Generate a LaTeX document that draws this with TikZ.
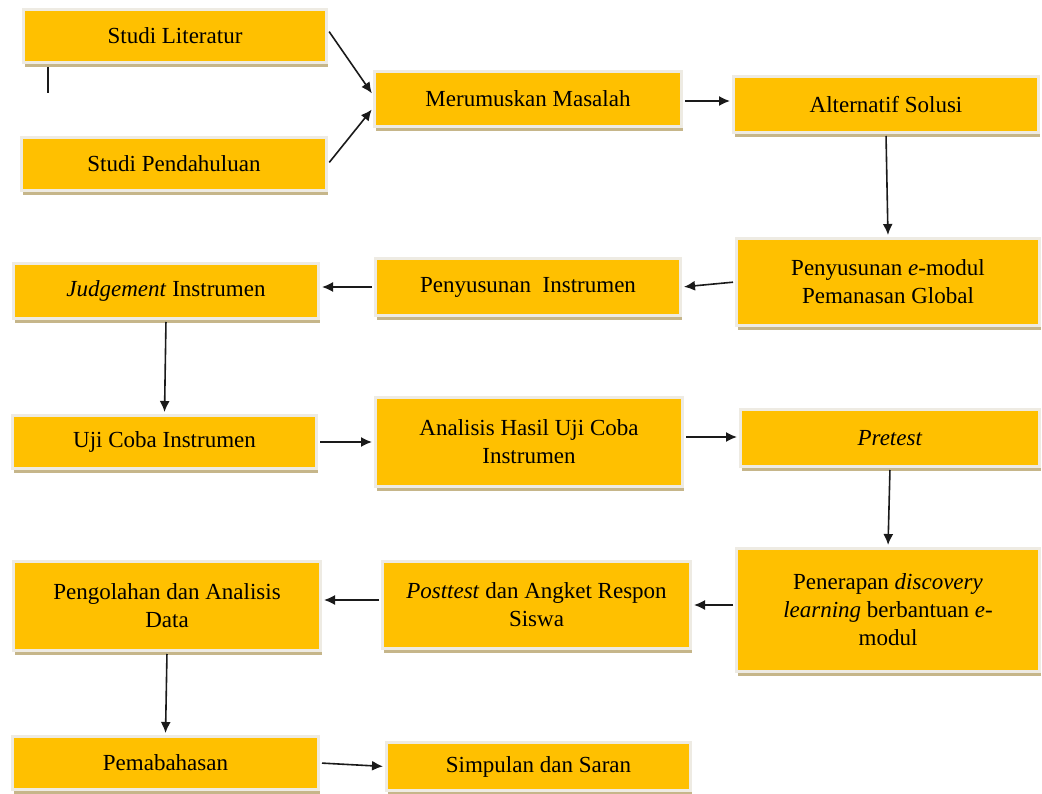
\documentclass[tikz,border=0pt]{standalone}
\usepackage{fontspec}
\setmainfont{Liberation Serif}
\usetikzlibrary{arrows.meta,shadows}
\definecolor{goldbox}{HTML}{FFC000}
\definecolor{framec}{HTML}{EEEBE3}
\definecolor{shadowc}{HTML}{C6B68A}
\definecolor{arrowc}{HTML}{1A1A1A}

\begin{document}
\begin{tikzpicture}[x=1pt, y=-1pt,
  box/.style={draw=framec, line width=3pt, fill=goldbox, align=center, inner sep=0pt,
    font=\fontsize{23}{28}\selectfont,
    drop shadow={shadow xshift=1.5pt, shadow yshift=-4.5pt, fill=shadowc, opacity=1}},
  flow/.style={-{Latex[length=11pt,width=10pt]}, line width=1.6pt, arrowc, shorten >=2pt, shorten <=2pt}]
  \useasboundingbox (0,0) rectangle (1042,794);
  % first column
  \node[box, minimum width=303, minimum height=53] (lit) at (175,36) {Studi Literatur};
  \node[box, minimum width=305, minimum height=53] (pend) at (174,164) {Studi Pendahuluan};
  \node[box, minimum width=307, minimum height=55] (rumus) at (528,99) {Merumuskan Masalah};
  \node[box, minimum width=305, minimum height=56] (alt) at (886,104.5) {Alternatif Solusi};
  % second row
  \node[box, minimum width=303, minimum height=87] (emod) at (888,282) {Penyusunan \textit{e}-modul\\Pemanasan Global};
  \node[box, minimum width=305, minimum height=57] (instr) at (528,287) {Penyusunan~ Instrumen};
  \node[box, minimum width=305, minimum height=55] (judge) at (166,291) {\textit{Judgement} Instrumen};
  % third row
  \node[box, minimum width=304, minimum height=53] (uji) at (164.5,442) {Uji Coba Instrumen};
  \node[box, minimum width=307, minimum height=89] (anal) at (529,442) {Analisis Hasil Uji Coba\\Instrumen};
  \node[box, minimum width=299, minimum height=57] (pre) at (890,438) {\textit{Pretest}};
  % fourth row
  \node[box, minimum width=303, minimum height=123] (terap) at (888,610) {Penerapan \textit{discovery}\\\textit{learning} berbantuan \textit{e}-\\modul};
  \node[box, minimum width=308, minimum height=87] (post) at (536.5,605) {\textit{Posttest} dan Angket Respon\\Siswa};
  \node[box, minimum width=307, minimum height=89] (olah) at (167,606) {Pengolahan dan Analisis\\Data};
  % last row
  \node[box, minimum width=306, minimum height=53] (bahas) at (165.5,763) {Pemabahasan};
  \node[box, minimum width=304, minimum height=48] (simp) at (538.5,766.5) {Simpulan dan Saran};

  \coordinate (tickA) at (48,67);
  \coordinate (tickB) at (48,93);
  \draw[line width=1.6pt, arrowc] (tickA) -- (tickB);

  \draw[flow] ([yshift=6pt]lit.east) -- ([yshift=4pt]rumus.west);
  \draw[flow] (pend.east) -- ([yshift=-9pt]rumus.west);
  \draw[flow] ([yshift=-2pt]rumus.east) -- ([yshift=-2pt]rumus.east -| alt.west);
  \draw[flow] (alt.south) -- (emod.north);
  \draw[flow] (emod.west) -- (instr.west -| instr.east);
  \draw[flow] (instr.west) -- (instr.west -| judge.east);
  \draw[flow] (judge.south) -- (uji.north);
  \draw[flow] (uji.east) -- (anal.west);
  \draw[flow] ([yshift=5pt]anal.east) -- ([yshift=5pt]anal.east -| pre.west);
  \draw[flow] (pre.south) -- (terap.north);
  \draw[flow] (post.east -| terap.west) -- (post.east);
  \draw[flow] ([yshift=5pt]post.west) -- ([yshift=5pt]post.west -| olah.east);
  \draw[flow] (olah.south) -- (bahas.north);
  \draw[flow] (bahas.east) -- (simp.west);
\end{tikzpicture}
\end{document}
